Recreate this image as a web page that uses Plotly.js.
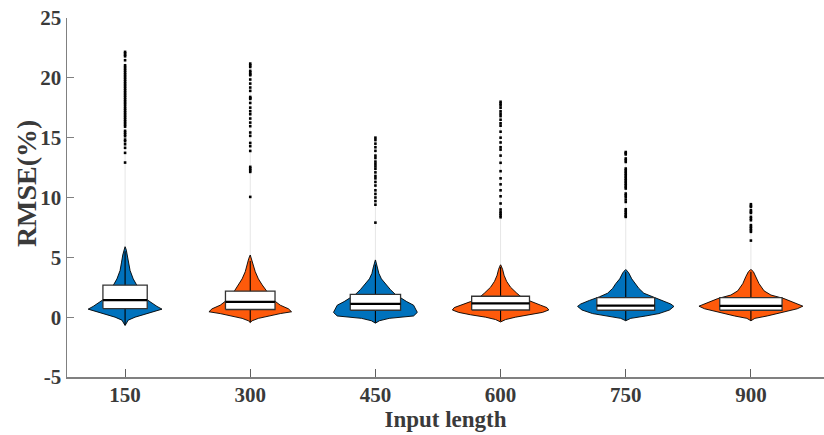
<!DOCTYPE html>
<html>
<head>
<meta charset="utf-8">
<script src="https://cdn.plot.ly/plotly-3.0.1.min.js"></script>
<style>html,body{margin:0;padding:0;background:#fff;}#chart{width:824px;height:435px;}</style>
</head>
<body>
<div id="chart"></div>
<script>
// ---- data ----
const categories = ['150', '300', '450', '600', '750', '900'];
const yTickVals = [-5, 0, 5, 10, 15, 20, 25];
const yTickText = ['-5', '0', '5', '10', '15', '20', '25'];

// box statistics (RMSE %)
const q1 = [0.72, 0.64, 0.58, 0.60, 0.58, 0.58];
const medians = [1.42, 1.28, 1.11, 1.15, 0.97, 0.95];
const q3 = [2.67, 2.17, 1.90, 1.75, 1.64, 1.64];
const lowerWhisker = [-0.65, -0.42, -0.47, -0.35, -0.28, -0.28];
const upperWhisker = [5.5, 4.7, 4.4, 4.2, 3.8, 3.8];

// kernel density profiles (value levels and density)
const densV150 = [-0.7, -0.5, -0.25, 0, 0.25, 0.5, 0.67, 0.9, 1.2, 1.5, 2.0, 2.6, 3.2, 3.9, 4.6, 5.2, 5.6, 5.9];
const densD150 = [0, 0.02, 0.05, 0.16, 0.32, 0.48, 0.59, 0.51, 0.42, 0.34, 0.26, 0.19, 0.13, 0.08, 0.056, 0.037, 0.02, 0];
const densV300 = [-0.45, -0.3, -0.1, 0.1, 0.3, 0.45, 0.7, 1.0, 1.4, 1.8, 2.2, 2.7, 3.2, 3.8, 4.4, 4.9, 5.2];
const densD300 = [0, 0.03, 0.13, 0.29, 0.48, 0.66, 0.61, 0.48, 0.38, 0.30, 0.26, 0.19, 0.13, 0.08, 0.05, 0.024, 0];
const densV450 = [-0.5, -0.3, -0.1, 0.1, 0.4, 0.7, 1.0, 1.3, 1.6, 1.9, 2.3, 2.8, 3.2, 3.65, 4.2, 4.8];
const densD450 = [0, 0.064, 0.22, 0.61, 0.67, 0.64, 0.61, 0.50, 0.40, 0.32, 0.24, 0.16, 0.096, 0.056, 0.032, 0];
const densV600 = [-0.4, -0.2, 0, 0.2, 0.4, 0.6, 0.8, 1.0, 1.3, 1.6, 2.0, 2.5, 3.0, 3.5, 4.0, 4.4];
const densD600 = [0, 0.08, 0.24, 0.48, 0.67, 0.77, 0.74, 0.64, 0.48, 0.35, 0.26, 0.16, 0.096, 0.056, 0.032, 0];
const densV750 = [-0.3, -0.1, 0.1, 0.3, 0.6, 0.9, 1.1, 1.4, 1.7, 2.0, 2.4, 2.8, 3.2, 3.7, 4.0];
const densD750 = [0, 0.08, 0.32, 0.53, 0.70, 0.77, 0.72, 0.58, 0.42, 0.29, 0.21, 0.16, 0.096, 0.048, 0];
const densV900 = [-0.3, -0.1, 0.1, 0.3, 0.5, 0.7, 0.92, 1.1, 1.3, 1.55, 1.85, 2.2, 2.8, 3.4, 3.8, 4.0];
const densD900 = [0, 0.064, 0.26, 0.43, 0.59, 0.74, 0.83, 0.75, 0.66, 0.53, 0.32, 0.21, 0.13, 0.08, 0.04, 0];

// outliers (RMSE %)
const out150 = [22.17, 22.05, 21.92, 21.8, 21.47, 21.05, 20.9, 20.75, 20.6, 20.45, 20.3, 20.15, 20.0, 19.85, 19.7, 19.55, 19.4, 19.25, 19.1, 18.95, 18.8, 18.65, 18.5, 18.35, 18.2, 18.05, 17.9, 17.75, 17.57, 17.42, 17.27, 17.12, 16.97, 16.82, 16.67, 16.52, 16.37, 16.22, 16.07, 15.92, 15.57, 15.42, 15.27, 15.12, 14.84, 14.7, 14.45, 14.15, 13.73, 12.92];
const out300 = [21.19, 21.05, 20.91, 20.58, 20.45, 20.3, 20.22, 19.86, 19.52, 19.19, 18.91, 18.4, 18.3, 18.24, 17.9, 17.51, 17.21, 16.96, 16.6, 16.26, 15.96, 15.43, 15.15, 14.56, 14.29, 13.89, 12.56, 12.42, 12.28, 12.14, 10.05];
const out450 = [15.0, 14.8, 14.5, 14.2, 13.9, 13.5, 13.3, 13.0, 12.8, 12.6, 12.4, 12.1, 11.8, 11.6, 11.3, 11.0, 10.6, 10.3, 10.0, 9.7, 9.4, 7.9];
const out600 = [18.0, 17.85, 17.7, 17.5, 17.2, 17.0, 16.8, 16.5, 16.2, 16.0, 15.5, 15.0, 14.6, 14.2, 14.0, 13.5, 12.9, 12.2, 11.6, 11.1, 10.6, 10.1, 9.5, 9.0, 8.8, 8.65, 8.5, 8.35];
const out750 = [13.8, 13.7, 13.6, 13.26, 13.12, 12.97, 12.42, 12.28, 12.14, 12.0, 11.86, 11.72, 11.58, 11.44, 11.3, 11.16, 11.02, 10.88, 10.75, 10.33, 10.19, 10.05, 9.83, 9.63, 9.02, 8.88, 8.74, 8.6, 8.46, 8.38];
const out900 = [9.44, 9.3, 9.22, 8.94, 8.8, 8.71, 8.38, 8.24, 8.1, 7.69, 7.55, 7.41, 7.27, 7.13, 6.4];

// ---- styling ----
const densV = [densV150, densV300, densV450, densV600, densV750, densV900];
const densD = [densD150, densD300, densD450, densD600, densD750, densD900];
const outliers = [out150, out300, out450, out600, out750, out900];
const fills = ['#0072BD', '#FE5A0B', '#0072BD', '#FE5A0B', '#0072BD', '#FE5A0B'];
const halfScale = 0.5;     // x-units per unit density
const boxFactor = 1.2;     // box width relative to max half-width

const traces = [];
const line = (xs, ys, color, width) => ({
  type: 'scatter', mode: 'lines', x: xs, y: ys, line: {color: color, width: width},
  hoverinfo: 'skip', showlegend: false
});

categories.forEach((c, i) => {
  const v = densV[i], d = densD[i];
  const xs = [], ys = [];
  for (let k = 0; k < v.length; k++) { xs.push(i + d[k] * halfScale); ys.push(v[k]); }
  for (let k = v.length - 1; k >= 0; k--) { xs.push(i - d[k] * halfScale); ys.push(v[k]); }
  // violin body
  traces.push({
    type: 'scatter', mode: 'lines', x: xs, y: ys, fill: 'toself',
    fillcolor: fills[i], line: {color: '#000', width: 0.9}, hoverinfo: 'skip', showlegend: false
  });
  // faint tail up to max outlier
  const top = Math.max(...outliers[i]);
  traces.push(line([i, i], [v[v.length - 1], top], '#e6e6e6', 1));
  // whiskers
  traces.push(line([i, i], [lowerWhisker[i], upperWhisker[i]], '#000', 1.1));
  // box
  const hw = boxFactor * Math.max(...d) * halfScale / 2;
  traces.push({
    type: 'scatter', mode: 'lines',
    x: [i - hw, i + hw, i + hw, i - hw, i - hw],
    y: [q1[i], q1[i], q3[i], q3[i], q1[i]],
    fill: 'toself', fillcolor: '#ffffff', line: {color: '#333', width: 1.3},
    hoverinfo: 'skip', showlegend: false
  });
  // median
  traces.push(line([i - hw, i + hw], [medians[i], medians[i]], '#000', 2.2));
  // outliers
  traces.push({
    type: 'scatter', mode: 'markers', x: outliers[i].map(() => i), y: outliers[i],
    marker: {symbol: 'square', size: 2.6, color: '#000', line: {width: 0}},
    hoverinfo: 'skip', showlegend: false
  });
});

const family = 'Liberation Serif, Times New Roman, serif';
const tickFont = {family: family, size: 21, color: '#3a3a3a', weight: 'bold'};

const layout = {
  width: 824, height: 435,
  margin: {l: 67, r: 0, t: 18, b: 58},
  paper_bgcolor: '#fff', plot_bgcolor: '#fff',
  font: tickFont,
  xaxis: {
    range: [-0.464, 5.584], tickvals: [0, 1, 2, 3, 4, 5], ticktext: categories,
    showgrid: false, zeroline: false, showline: true, linecolor: '#808080', linewidth: 1.5,
    ticks: 'inside', ticklen: 8, tickcolor: '#606060', tickwidth: 1,
    tickfont: tickFont, ticklabelstandoff: -2,
    title: {text: 'Input length', font: {family: family, size: 23, color: '#3a3a3a', weight: 'bold'}, standoff: 2}
  },
  yaxis: {
    range: [-5, 25], tickvals: yTickVals, ticktext: yTickText,
    showgrid: false, zeroline: false, showline: true, linecolor: '#808080', linewidth: 1.5,
    ticks: 'inside', ticklen: 7, tickcolor: '#808080', tickwidth: 1,
    tickfont: tickFont
  },
  annotations: [{
    text: 'RMSE(%)', xref: 'paper', yref: 'paper', x: -0.0542, y: 0.54,
    xanchor: 'center', yanchor: 'middle', textangle: -90, showarrow: false,
    font: {family: family, size: 28, color: '#3a3a3a', weight: 'bold'}
  }]
};

Plotly.newPlot('chart', traces, layout, {displayModeBar: false, staticPlot: true});
</script>
</body>
</html>
